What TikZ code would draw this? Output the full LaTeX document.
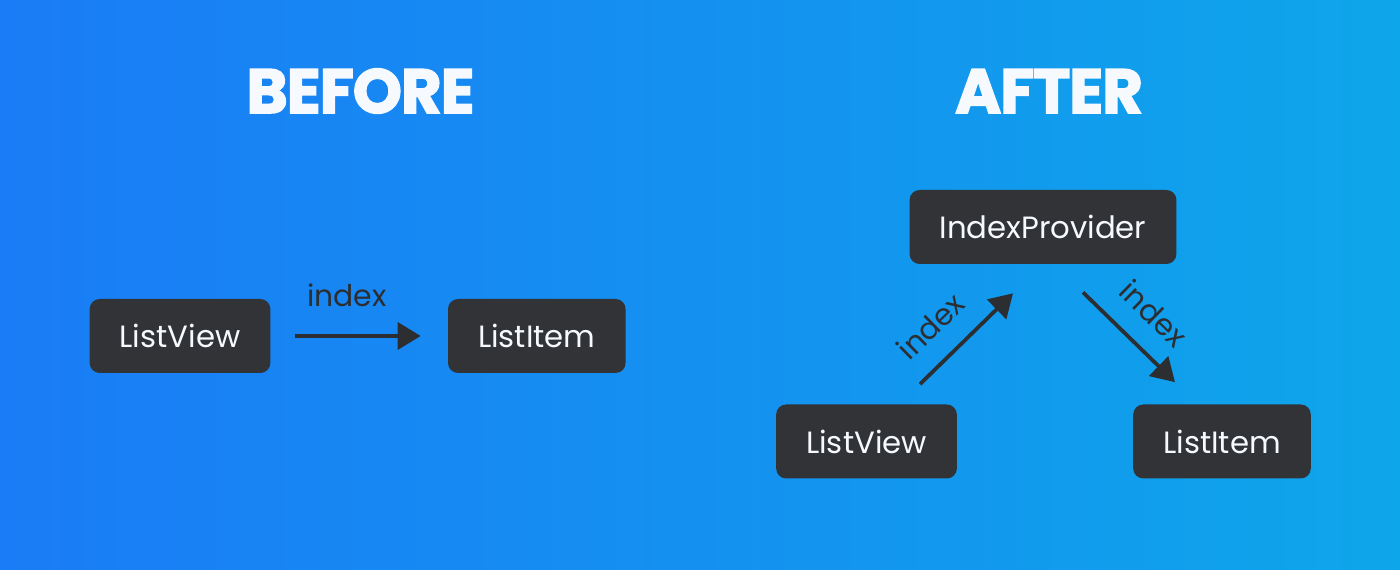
\documentclass[tikz,border=0pt]{standalone}
\usepackage{fontspec}
\setmainfont{Poppins}
\usetikzlibrary{arrows.meta, positioning}

\definecolor{bgleft}{RGB}{26,124,246}
\definecolor{bgright}{RGB}{14,166,234}
\definecolor{boxfill}{RGB}{49,51,55}
\definecolor{inkdark}{RGB}{44,46,50}
\definecolor{paper}{RGB}{246,250,255}

\begin{document}
\begin{tikzpicture}[
				x=0.02cm, y=0.02cm,
				title/.style={font=\fontsize{35.5}{40}\selectfont\bfseries\addfontfeatures{FakeBold=2.5, LetterSpace=-1.5}, text=paper, anchor=base, inner sep=0pt},
				comp/.style={rectangle, rounded corners=0.2cm, fill=boxfill, text=paper, font=\fontsize{17.5}{21}\selectfont, inner xsep=0.6cm, minimum height=1.48cm},
				arrow/.style={-{Triangle[length=0.46cm, width=0.54cm]}, line width=0.075cm, draw=inkdark},
				lbl/.style={font=\fontsize{17}{20}\selectfont, text=inkdark, inner sep=0pt}
				]
				
				\useasboundingbox (0,0) rectangle (1400,570);
				\shade[left color=bgleft, right color=bgright] (0,0) rectangle (1400,570);
				
				\node[title] (before) at (360.5,457) {BEFORE};
				\node[title] (after) at (1049,457) {AFTER};
				
				\node[comp] (listview1) at (180,234) {ListView};
				\node[comp, right=3.54cm of listview1] (listitem1) {ListItem};
				
				\node[comp] (provider) at (1043,343) {IndexProvider};
				\node[comp] (listview2) at (866.5,128.5) {ListView};
				\node[comp] (listitem2) at (1222,128.5) {ListItem};
				
				\draw[arrow, shorten <=0.48cm, shorten >=0.54cm] (listview1.east) -- node[lbl, pos=0.43, above=0.54cm]{index} (listitem1.west);
				
				\draw[arrow] ([shift={(53.5,20)}]listview2.north) -- node[lbl, sloped, pos=0.37, above=0.42cm]{index} ([shift={(-30,-29)}]provider.south);
				\draw[arrow] ([shift={(40,-28)}]provider.south) -- node[lbl, sloped, pos=0.51, above=0.42cm]{index} ([shift={(-47,22)}]listitem2.north);
				
			\end{tikzpicture}
\end{document}
